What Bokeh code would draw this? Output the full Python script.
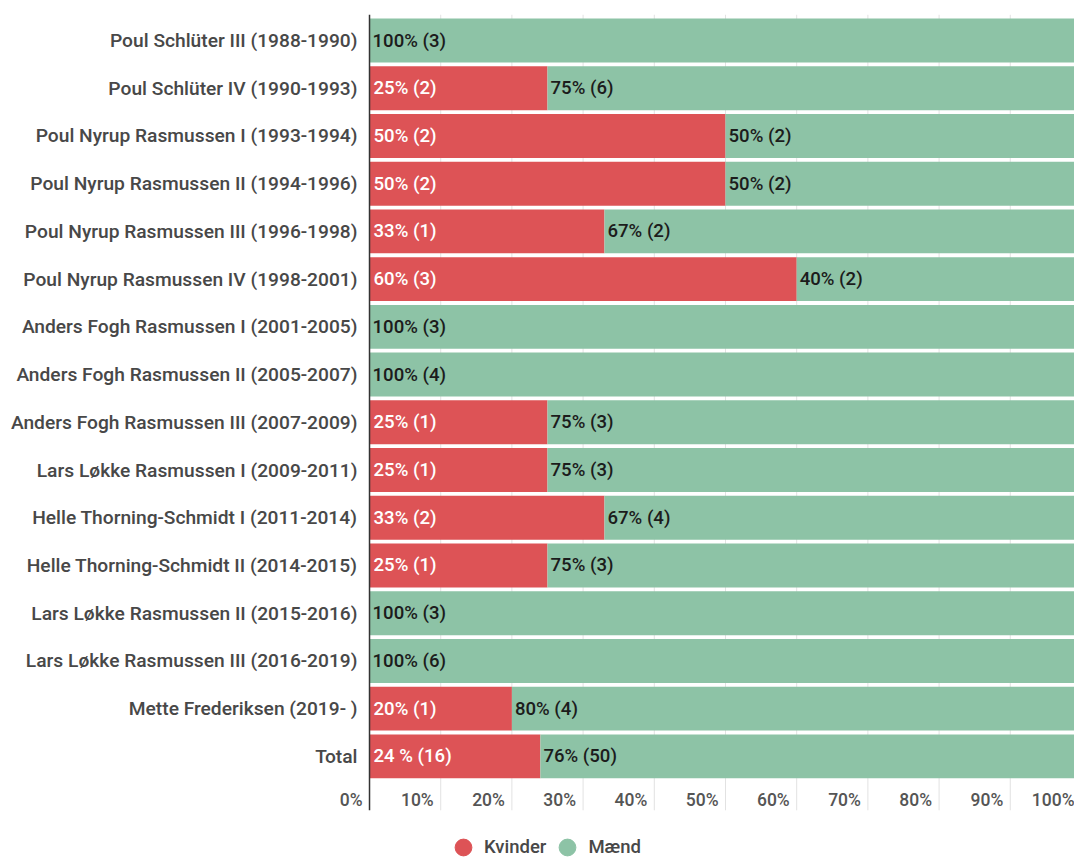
from bokeh.plotting import figure
from bokeh.models import Range1d, Legend, LegendItem, ColumnDataSource
from bokeh.core.properties import value
from bokeh.embed import file_html
from bokeh.resources import INLINE

cabinets = [
    "Poul Schlüter III (1988-1990)",
    "Poul Schlüter IV (1990-1993)",
    "Poul Nyrup Rasmussen I (1993-1994)",
    "Poul Nyrup Rasmussen II (1994-1996)",
    "Poul Nyrup Rasmussen III (1996-1998)",
    "Poul Nyrup Rasmussen IV (1998-2001)",
    "Anders Fogh Rasmussen I (2001-2005)",
    "Anders Fogh Rasmussen II (2005-2007)",
    "Anders Fogh Rasmussen III (2007-2009)",
    "Lars Løkke Rasmussen I (2009-2011)",
    "Helle Thorning-Schmidt I (2011-2014)",
    "Helle Thorning-Schmidt II (2014-2015)",
    "Lars Løkke Rasmussen II (2015-2016)",
    "Lars Løkke Rasmussen III (2016-2019)",
    "Mette Frederiksen (2019- )",
    "Total",
]
women_pct = [0, 25, 50, 50, 33, 60, 0, 0, 25, 25, 33, 25, 0, 0, 20, 24]
men_pct = [100, 75, 50, 50, 67, 40, 100, 100, 75, 75, 67, 75, 100, 100, 80, 76]
women_n = [0, 2, 2, 2, 1, 3, 0, 0, 1, 1, 2, 1, 0, 0, 1, 16]
men_n = [3, 6, 2, 2, 2, 2, 3, 4, 3, 3, 4, 3, 3, 6, 4, 50]
women_labels = [f"{p}% ({k})" for p, k in zip(women_pct, women_n)]
women_labels[-1] = "24 % (16)"
men_labels = [f"{p}% ({k})" for p, k in zip(men_pct, men_n)]
x_ticks = [0, 10, 20, 30, 40, 50, 60, 70, 80, 90, 100]
x_tick_labels = [f"{t}%" for t in x_ticks]
series_names = ["Kvinder", "Mænd"]

RED = "#DD5356"
GREEN = "#8DC3A6"
FONT_M = "Roboto Medium"

n = len(cabinets)
ypos = list(range(n))
top = -0.545
grid_bottom = n - 1 + 1.13
frame_bottom = n - 1 + 2.14
tick_y = n - 1 + 0.92

p = figure(width=1074, height=858, output_backend="svg", toolbar_location=None,
           x_range=Range1d(-51.83, 99.02), y_range=Range1d(frame_bottom, top),
           min_border_left=0, min_border_right=0, min_border_top=14, min_border_bottom=0)
p.outline_line_color = None
p.background_fill_color = "white"
p.xaxis.visible = False
p.yaxis.visible = False
p.xgrid.visible = False
p.ygrid.visible = False

# vertical grid lines
p.segment(x0=x_ticks[1:], y0=[top] * (len(x_ticks) - 1), x1=x_ticks[1:],
          y1=[grid_bottom] * (len(x_ticks) - 1), line_color="#e2e2e2", line_width=1)

# bars
total = [w + m for w, m in zip(women_pct, men_pct)]
p.hbar(y=ypos, left=0, right=women_pct, height=0.92, fill_color=RED, line_color=None)
p.hbar(y=ypos, left=women_pct, right=total, height=0.92, fill_color=GREEN, line_color=None)

# category axis line and labels
p.segment(x0=[x_ticks[0]], y0=[top], x1=[x_ticks[0]], y1=[grid_bottom],
          line_color="#333333", line_width=1.5)
csrc = ColumnDataSource(dict(y=ypos, t=cabinets))
p.text(x=x_ticks[0], y="y", text="t", source=csrc, x_offset=-12, text_align="right",
       text_baseline="middle", text_font=value(FONT_M), text_font_size="19.2px",
       text_color="#484848")

# bar labels
wsrc = ColumnDataSource(dict(
    y=[y for y, k in zip(ypos, women_n) if k > 0],
    t=[t for t, k in zip(women_labels, women_n) if k > 0]))
p.text(x=0, y="y", text="t", source=wsrc, x_offset=4, text_align="left", text_baseline="middle",
       text_font=value(FONT_M), text_font_size="18.6px", text_color="white")
msrc = ColumnDataSource(dict(y=ypos, x=women_pct, t=men_labels))
p.text(x="x", y="y", text="t", source=msrc, x_offset=3, text_align="left", text_baseline="middle",
       text_font=value(FONT_M), text_font_size="18.6px", text_color="#1c1c1c")

# x tick labels
tsrc = ColumnDataSource(dict(x=x_ticks, y=[tick_y] * len(x_ticks), t=x_tick_labels))
p.text(x="x", y="y", text="t", source=tsrc, x_offset=-7, text_align="right",
       text_baseline="middle", text_font=value(FONT_M), text_font_size="17.5px",
       text_color="#555555")

# legend
r1 = p.scatter(x=[-1000], y=[-1000], marker="circle", size=17, color=RED)
r2 = p.scatter(x=[-1000], y=[-1000], marker="circle", size=17, color=GREEN)
legend = Legend(items=[LegendItem(label=series_names[0], renderers=[r1]),
                       LegendItem(label=series_names[1], renderers=[r2])],
                location=(442, -10), orientation="horizontal", glyph_width=42, glyph_height=42,
                padding=0, margin=0, spacing=0, label_standoff=-2,
                background_fill_alpha=0, border_line_color=None,
                label_text_font=FONT_M, label_text_font_size="18.5px", label_text_color="#484848")
p.add_layout(legend)

open("out.html", "w").write(file_html(p, INLINE))
